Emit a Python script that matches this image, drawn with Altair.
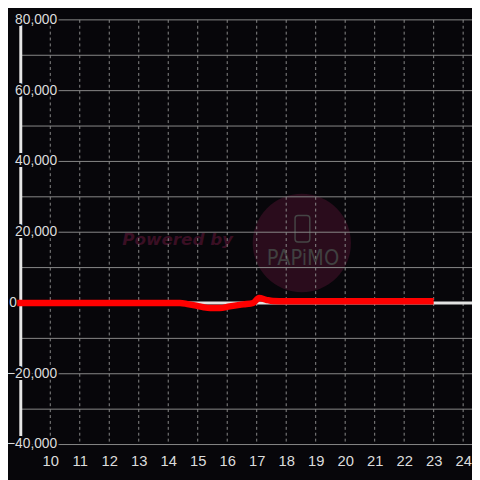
import altair as alt
import pandas as pd

# ---- data ----
line_x = [8.88, 9.5, 10, 11, 12, 13, 14, 14.4, 14.65, 14.98, 15.2, 15.42, 15.75,
          16.08, 16.55, 16.88, 17.08, 17.32, 17.55, 18, 19, 20, 21, 22, 23.0]
line_y = [0, 0, 0, 0, 0, 0, 0, 0, -300, -830, -1200, -1400, -1400,
          -950, -400, 0, 1400, 900, 550, 500, 500, 500, 500, 500, 500]

x_ticks = list(range(10, 25))
y_grid = [-40000, -30000, -20000, -10000, 0, 10000, 20000, 30000, 40000,
          50000, 60000, 70000, 80000]
y_labels = [-40000, -20000, 0, 20000, 40000, 60000, 80000]

BG = "#07060a"
FONT = "Liberation Sans"

xscale = alt.Scale(domain=[9, 24.3], nice=False, zero=False)
yscale = alt.Scale(domain=[-40000, 80000], nice=False, zero=False)
xaxis = alt.Axis(values=x_ticks, grid=False, domain=False, ticks=False, title=None,
                 labelFontSize=15, labelFont=FONT, labelColor="#dcdcdc",
                 labelPadding=9, labelOverlap=False, labelFlush=False)


def X(field):
    return alt.X(field, scale=xscale, axis=xaxis)


def Y(field):
    return alt.Y(field, scale=yscale, axis=None)


line_df = pd.DataFrame({"x": line_x, "y": line_y})
xg_df = pd.DataFrame({"v": x_ticks})
yg_df = pd.DataFrame({"v": y_grid})
yl_df = pd.DataFrame({"v": y_labels})

# ---- watermark (behind the grid) ----
wm_circle = alt.Chart(pd.DataFrame({"x": [18.53], "y": [16944]})).mark_point(
    shape="circle", filled=True, size=10000, color="#2a0c1c", opacity=1
).encode(x=X("x:Q"), y=Y("y:Q"))

wm_phone = alt.Chart(pd.DataFrame({"x": [18.3], "x2": [18.8], "y": [24722], "y2": [17222]})).mark_rect(
    filled=False, stroke="#454545", strokeWidth=1.5, cornerRadius=3
).encode(x=X("x:Q"), x2="x2:Q", y=Y("y:Q"), y2="y2:Q")

wm_brand = alt.Chart(pd.DataFrame({"x": [18.57], "y": [12778], "t": ["PAPiMO"]})).mark_text(
    font="Liberation Sans Narrow, DejaVu Sans Condensed, DejaVu Sans", fontSize=22,
    color="#404040", align="center", baseline="middle"
).encode(x=X("x:Q"), y=Y("y:Q"), text="t:N")

wm_powered = alt.Chart(pd.DataFrame({"x": [14.32], "y": [17778], "t": ["Powered by"]})).mark_text(
    font="DejaVu Sans", fontSize=17, fontWeight="bold", fontStyle="italic",
    color="#3a0f24", align="center", baseline="middle"
).encode(x=X("x:Q"), y=Y("y:Q"), text="t:N")

# ---- grid ----
hgrid = alt.Chart(yg_df).mark_rule(color="#8a8a8a", strokeWidth=1).encode(y=Y("v:Q"))
vgrid = alt.Chart(xg_df).mark_rule(color="#8a8a8a", strokeWidth=1, strokeDash=[3, 3]).encode(x=X("v:Q"))

zero_line = alt.Chart(pd.DataFrame({"v": [0]})).mark_rule(color="#e2e2e2", strokeWidth=3).encode(y=Y("v:Q"))
axis_line = alt.Chart(pd.DataFrame({"v": [9]})).mark_rule(color="#e6e6e6", strokeWidth=3).encode(x=X("v:Q"))


# ---- y labels (drawn inside the plot, with a background knock-out) ----
def ylab(filter_expr, dx, fill, stroke=None, sw=0):
    kw = dict(align="right", baseline="middle", dx=dx, fontSize=14, font=FONT, fill=fill)
    if stroke:
        kw.update(stroke=stroke, strokeWidth=sw)
    return alt.Chart(yl_df).transform_filter(filter_expr).transform_calculate(
        xpos="9").mark_text(**kw).encode(
        x=X("xpos:Q"), y=Y("v:Q"), text=alt.Text("v:Q", format=","))


lab_bg = ylab("datum.v != 0", 37, BG, BG, 4)
lab_fg = ylab("datum.v != 0", 37, "#dcdcdc")
lab0 = ylab("datum.v == 0", -4, "#dcdcdc")

# ---- the series ----
line = alt.Chart(line_df).mark_line(color="#ff0000", strokeWidth=6.5, interpolate="monotone").encode(
    x=X("x:Q"), y=Y("y:Q"))

chart = alt.layer(
    wm_circle, wm_phone, wm_brand, wm_powered,
    hgrid, vgrid, zero_line, axis_line,
    lab_bg, lab_fg, lab0, line
).properties(
    width=459, height=432,
    autosize=alt.AutoSizeParams(type="none"),
    padding={"left": 13, "top": 8, "right": 0, "bottom": 32},
    background=BG,
).configure_view(stroke=None)

chart.save("out.html", embed_options={"renderer": "svg", "actions": False})
